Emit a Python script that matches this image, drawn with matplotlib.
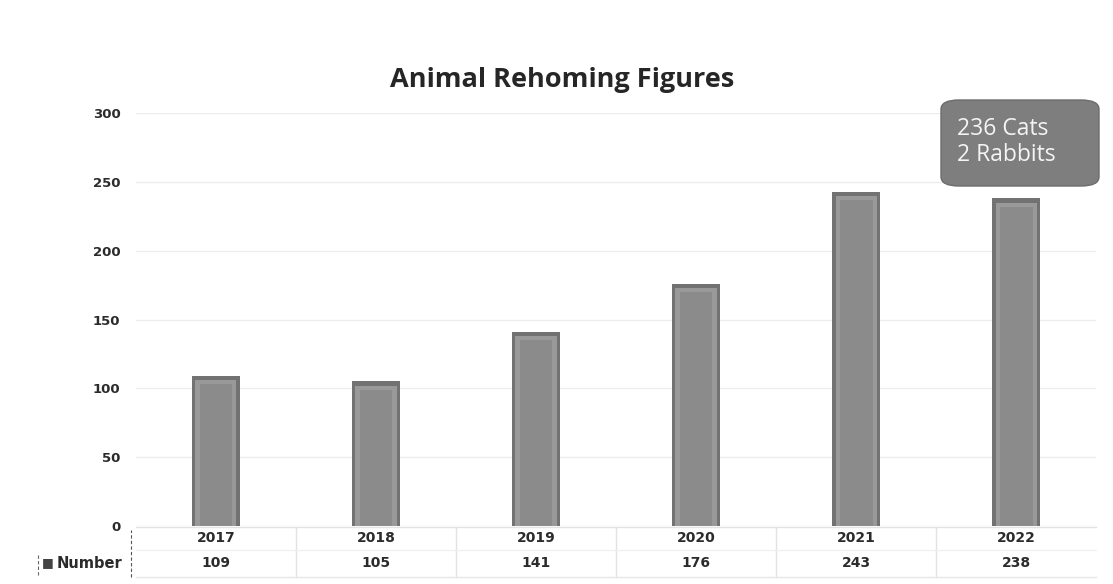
import matplotlib

matplotlib.use("Agg")

import matplotlib.pyplot as plt
from matplotlib.patches import FancyBboxPatch
import matplotlib.transforms as mtransforms

years = ["2017", "2018", "2019", "2020", "2021", "2022"]
numbers = [109, 105, 141, 176, 243, 238]
y_ticks = [0, 50, 100, 150, 200, 250, 300]
title = "Animal Rehoming Figures"
series_name = "Number"
note_lines = ["236 Cats", "2 Rabbits"]

BAR_DARK = "#727272"
BAR_FACE = "#8b8b8b"
BAR_LIGHT = "#999999"
TEXT = "#2b2b2b"
GRID = "#ececec"

fig = plt.figure(figsize=(11.13, 5.84), dpi=100)
ax = fig.add_axes([0.122, 0.0993, 0.863, 0.707])

x = list(range(len(years)))
width = 0.30

# bevelled bars: dark outer shell, lighter rim, flat face
ax.bar(x, numbers, width=width, color=BAR_DARK, zorder=3)
ax.bar(x, [v - 3 for v in numbers], width=width * 0.86, color=BAR_LIGHT, zorder=4)
ax.bar(x, [v - 6 for v in numbers], width=width * 0.68, color=BAR_FACE, zorder=5)

ax.set_xlim(-0.5, len(years) - 0.5)
ax.set_ylim(0, 300)
ax.set_yticks(y_ticks)
ax.set_yticklabels([str(t) for t in y_ticks], fontsize=9.5, fontweight="bold", color=TEXT)
ax.tick_params(axis="y", length=0, pad=11)
ax.set_xticks([])
ax.grid(axis="y", color=GRID, linewidth=1, zorder=0)
for side in ax.spines.values():
    side.set_visible(False)

# data table under the plot
trans = mtransforms.blended_transform_factory(ax.transData, fig.transFigure)
row_year = 1 - 538 / 584
row_val = 1 - 563 / 584
top = 1 - 527 / 584
mid = 1 - 550 / 584
bottom = 1 - 577 / 584
for i, (yr, n) in enumerate(zip(years, numbers)):
    ax.text(i, row_year, yr, transform=trans, ha="center", va="center",
            fontsize=10, fontweight="bold", color=TEXT)
    ax.text(i, row_val, str(n), transform=trans, ha="center", va="center",
            fontsize=10, fontweight="bold", color=TEXT)
for b in [i + 0.5 for i in range(len(years) - 1)]:
    ax.plot([b, b], [bottom, top], transform=trans, color="#e2e2e2", lw=1, clip_on=False)
ax.plot([-0.5, len(years) - 0.5], [top, top], transform=trans, color="#e2e2e2", lw=1, clip_on=False)
ax.plot([-0.5, len(years) - 0.5], [mid, mid], transform=trans, color="#f0f0f0", lw=1, clip_on=False)
ax.plot([-0.5, len(years) - 0.5], [bottom, bottom], transform=trans, color="#e6e6e6", lw=1, clip_on=False)

fig.text(42 / 1113, row_val, "\u25a0", ha="left", va="center", fontsize=9, color="#444444")
fig.text(57 / 1113, row_val, series_name, ha="left", va="center",
         fontsize=10.5, fontweight="bold", color=TEXT)
fig.add_artist(plt.Line2D([38 / 1113, 38 / 1113], [1 - 575 / 584, 1 - 553 / 584],
                          color="#666666", lw=0.8, ls=(0, (3, 2))))
fig.add_artist(plt.Line2D([131 / 1113, 131 / 1113], [bottom, 1 - 530 / 584],
                          color="#555555", lw=0.8, ls=(0, (3, 2))))

fig.text(562 / 1113, 1 - 80 / 584, title, ha="center", va="center",
         fontsize=19.5, fontweight="bold", color="#262626", family="Open Sans")

# rounded callout above the last bar
box = FancyBboxPatch((941 / 1113, 1 - 186 / 584), 158 / 1113, 86 / 584,
                     boxstyle="round,pad=0,rounding_size=0.016",
                     transform=fig.transFigure, facecolor="#7e7e7e",
                     edgecolor="#6c6c6c", lw=1)
fig.add_artist(box)
fig.text(957 / 1113, 1 - 142 / 584, "\n".join(note_lines), ha="left", va="center",
         fontsize=16.5, color="#f4f4f4", family="Open Sans", linespacing=1.15)

fig.savefig("out.png", dpi=100, facecolor="white")
